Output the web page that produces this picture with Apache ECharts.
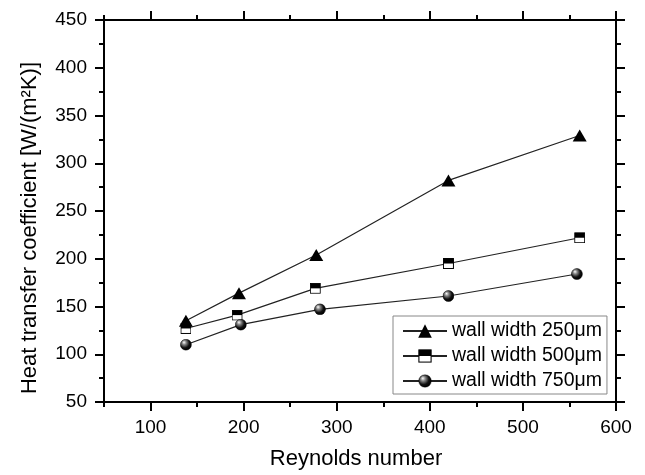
<!DOCTYPE html>
<html>
<head>
<meta charset="utf-8">
<script src="https://cdn.jsdelivr.net/npm/echarts@6/dist/echarts.min.js"></script>
<style>html,body{margin:0;padding:0;background:#fff}#c{width:645px;height:475px}</style>
</head>
<body>
<div id="c"></div>
<script>
// Data
const reTri  = [138, 195, 278, 420, 561];
const hTri   = [135, 164, 204, 282, 329];
const reSq   = [138, 193, 277, 420, 561];
const hSq    = [127, 141, 169, 195, 222];
const reCirc = [138, 197, 282, 420, 558];
const hCirc  = [110, 131, 147, 161, 184];
const seriesNames = ['wall width 250\u03bcm', 'wall width 500\u03bcm', 'wall width 750\u03bcm'];
const xMajor = [100, 200, 300, 400, 500, 600];
const xMinor = [50, 150, 250, 350, 450, 550];

const FONT = 'Liberation Sans, Arial, sans-serif';
const sqSvg = "<svg xmlns='http://www.w3.org/2000/svg' width='22' height='22' viewBox='0 0 22 22'><rect x='1' y='1' width='20' height='20' fill='#fff' stroke='#000' stroke-width='2'/><rect x='1' y='1' width='20' height='10' fill='#000'/></svg>";
const ciSvg = "<svg xmlns='http://www.w3.org/2000/svg' width='24' height='24' viewBox='0 0 24 24'><defs><radialGradient id='g' cx='0.4' cy='0.38' r='0.62' fx='0.32' fy='0.28'><stop offset='0' stop-color='#fff'/><stop offset='0.3' stop-color='#888'/><stop offset='0.7' stop-color='#111'/><stop offset='1' stop-color='#000'/></radialGradient></defs><circle cx='12' cy='12' r='11' fill='url(#g)' stroke='#000' stroke-width='1'/></svg>";
const sqSym = 'image://data:image/svg+xml;charset=utf-8,' + encodeURIComponent(sqSvg);
const ciSym = 'image://data:image/svg+xml;charset=utf-8,' + encodeURIComponent(ciSvg);

function pairs(xs, ys) { return xs.map((x, i) => [x, ys[i]]); }

const axisLineStyle = { color: '#000', width: 2 };
const tickStyle = { color: '#000', width: 2 };

function xAx(pos, ticks, len, showLine, showLabel, name) {
  return {
    type: 'value', min: 50, max: 600, interval: 50, position: pos, gridIndex: 0,
    axisLine: { show: showLine, onZero: false, lineStyle: axisLineStyle },
    axisTick: { show: true, inside: false, length: len, customValues: ticks, lineStyle: tickStyle },
    axisLabel: { show: showLabel, customValues: xMajor, fontSize: 19, color: '#000', fontFamily: FONT, margin: 16 },
    splitLine: { show: false },
    name: name || '', nameLocation: 'middle', nameGap: 46,
    nameTextStyle: { fontSize: 22, color: '#000', fontFamily: FONT, padding: [0, 8, 0, 0] }
  };
}
function yAx(pos, showLabel, name) {
  return {
    type: 'value', min: 50, max: 450, interval: 50, position: pos, gridIndex: 0,
    axisLine: { show: true, onZero: false, lineStyle: axisLineStyle },
    axisTick: { show: true, inside: false, length: 9, lineStyle: tickStyle },
    minorTick: { show: true, splitNumber: 2, length: 5, lineStyle: tickStyle },
    axisLabel: { show: showLabel, fontSize: 19, color: '#000', fontFamily: FONT, margin: 17 },
    splitLine: { show: false }, minorSplitLine: { show: false },
    name: name || '', nameLocation: 'middle', nameGap: 63, nameRotate: 90,
    nameTextStyle: { fontSize: 22, color: '#000', fontFamily: FONT, padding: [0, 34, 0, 0] }
  };
}

const chart = echarts.init(document.getElementById('c'), null, { renderer: 'canvas' });
chart.setOption({
  backgroundColor: '#fff',
  animation: false,
  grid: { left: 104, right: 29, top: 20, bottom: 73 },
  xAxis: [
    xAx('bottom', xMajor, 9, true, true, 'Reynolds number'),
    xAx('bottom', xMinor, 5, false, false),
    xAx('top', xMajor, 9, true, false),
    xAx('top', xMinor, 5, false, false)
  ],
  yAxis: [
    yAx('left', true, 'Heat transfer coefficient [W/(m\u00b2K)]'),
    yAx('right', false)
  ],
  legend: {
    orient: 'vertical', left: 393, top: 316,
    itemWidth: 44, itemHeight: 17, itemGap: 5,
    padding: [5, 5, 3, 9],
    borderColor: '#888', borderWidth: 1, backgroundColor: '#fff',
    textStyle: { fontSize: 19.5, color: '#000', fontFamily: FONT },
    data: seriesNames
  },
  series: [
    { name: seriesNames[0], type: 'line', data: pairs(reTri, hTri), symbol: 'triangle', symbolSize: [14, 12],
      itemStyle: { color: '#000' }, lineStyle: { color: '#222', width: 1.2 } },
    { name: seriesNames[1], type: 'line', data: pairs(reSq, hSq), symbol: sqSym, symbolSize: 11,
      itemStyle: { color: '#000' }, lineStyle: { color: '#222', width: 1.2 } },
    { name: seriesNames[2], type: 'line', data: pairs(reCirc, hCirc), symbol: ciSym, symbolSize: 12,
      itemStyle: { color: '#000' }, lineStyle: { color: '#222', width: 1.2 } }
  ]
});
</script>
</body>
</html>
